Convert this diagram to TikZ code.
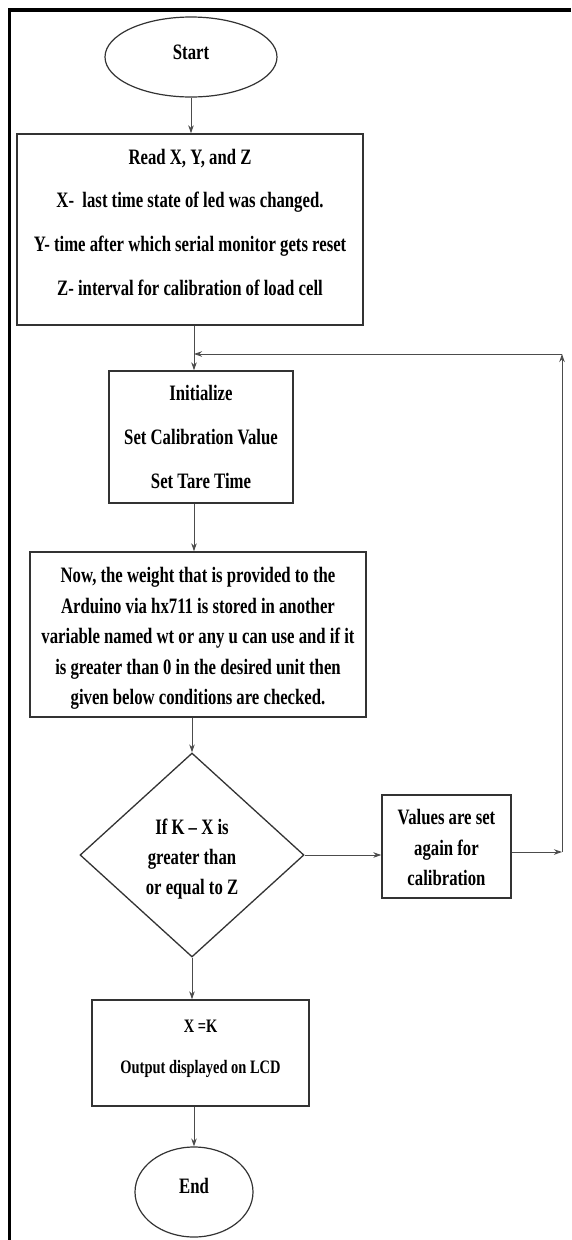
\documentclass[tikz,border=0pt]{standalone}
\usepackage{fontspec}
\setmainfont{Liberation Serif}[FakeStretch=0.76]
\usetikzlibrary{shapes.geometric,arrows.meta}
\tikzset{
  txt/.style={font=\bfseries\fontsize{22}{43.7}\selectfont, align=center, text=black},
  box/.style={draw=black!80, line width=1.4pt, rectangle, inner sep=0pt, txt},
  oval/.style={draw=black!80, line width=1.2pt, ellipse, inner sep=0pt, txt},
  decision/.style={draw=black!80, line width=1.3pt, diamond, inner sep=0pt, txt},
  conn/.style={draw=black!70, line width=0.9pt, -{Stealth[length=8pt,width=5.5pt]}},
  frameline/.style={draw=black, line width=3.5pt}
}
\begin{document}
\begin{tikzpicture}[x=1pt,y=-1pt]
\useasboundingbox (0,0) rectangle (571,1240);
\fill[white] (0,0) rectangle (571,1240);
\draw[frameline] (9.5,1240) -- (9.5,10) -- (571,10);

\node[oval, minimum width=172pt, minimum height=80pt] (start) at (191,57) {Start\\[-34pt]};
\node[box, minimum width=346pt, minimum height=191pt] (b1) at (190,229.5)
  {Read X, Y, and Z\\X-\ \ last time state of led was changed.\\Y- time after which serial monitor gets reset\\Z- interval for calibration of load cell\\[-28.9pt]};
\node[box, minimum width=184pt, minimum height=132pt] (init) at (201,437)
  {Initialize\\Set Calibration Value\\Set Tare Time};
\node[box, minimum width=336pt, minimum height=165pt, font=\bfseries\fontsize{22}{30.5}\selectfont] (b3) at (198,634.5)
  {Now, the weight that is provided to the\\Arduino via hx711 is stored in another\\variable named wt or any u can use and if it\\is greater than 0 in the desired unit then\\given below conditions are checked.\\[-34pt]};
\node[decision, minimum width=224pt, minimum height=204pt, font=\bfseries\fontsize{22}{30}\selectfont] (dec) at (192,855)
  {If K -- X is\\greater than\\or equal to Z\\[-33pt]};
\node[box, minimum width=129pt, minimum height=103pt, font=\bfseries\fontsize{22}{30.5}\selectfont] (val) at (446.5,846.5)
  {Values are set\\again for\\calibration\\[-33pt]};
\node[box, minimum width=217pt, minimum height=106pt, font=\bfseries\fontsize{19}{41}\selectfont] (b5) at (200.5,1053)
  {X =K\\Output displayed on LCD\\[-29pt]};
\node[oval, minimum width=118pt, minimum height=90pt] (end) at (194,1192) {End\\[-31pt]};

\coordinate (j) at (194,354);
\coordinate (c1) at (562,852);
\coordinate (c2) at (562,354);

\draw[conn] (start.south) -- (start.south |- b1.north);
\draw[conn] (b1.south -| j) -- (init.north -| j);
\draw[conn] (init.south -| j) -- (b3.north -| j);
\draw[conn] (b3.south -| dec.north) -- (dec.north);
\draw[conn] (dec.east) -- (dec.east -| val.west);
\draw[conn] (val.east |- c1) -- (c1);
\draw[conn] (c1) -- (c2);
\draw[conn] (c2) -- (j);
\draw[conn] (dec.south) -- (dec.south |- b5.north);
\draw[conn] (b5.south -| end.north) -- (end.north);
\end{tikzpicture}
\end{document}
